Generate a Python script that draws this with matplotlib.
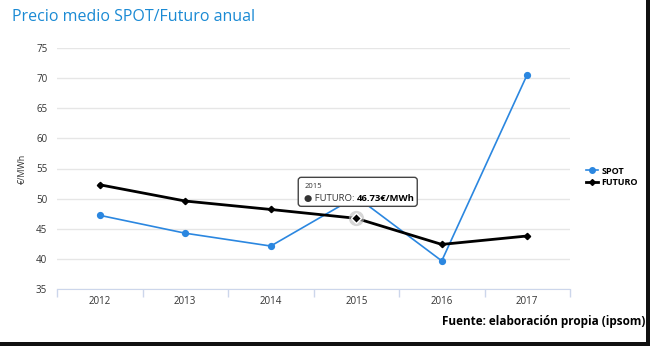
import matplotlib.pyplot as plt
import matplotlib.transforms as mtransforms
from matplotlib.patches import Rectangle, FancyBboxPatch
from matplotlib.lines import Line2D

# ---------------------------
# Data
# ---------------------------
years = ["2012", "2013", "2014", "2015", "2016", "2017"]
spot = [47.23, 44.26, 42.13, 50.32, 39.67, 70.6]
futuro = [52.3, 49.6, 48.2, 46.73, 42.4, 43.8]
y_ticks = [35, 40, 45, 50, 55, 60, 65, 70, 75]

BLUE = "#2b87e0"
TITLE_BLUE = "#1a8ad4"
AXIS_COL = "#ccd6eb"
GRID_COL = "#e6e6e6"
TXT = "#333333"

plt.rcParams["font.family"] = ["Open Sans", "DejaVu Sans"]

W, H = 650, 346
fig = plt.figure(figsize=(W / 100, H / 100), dpi=100)
fig.patch.set_facecolor("white")

# plot area in pixels: x 57..570, y 48..289
ax = fig.add_axes([57 / W, 1 - 289 / H, (570 - 57) / W, (289 - 48) / H])

x = list(range(len(years)))
ax.plot(x, spot, color=BLUE, lw=1.2, marker="o", ms=4.2,
        mfc=BLUE, mec=BLUE, zorder=3)
ax.plot(x, futuro, color="black", lw=2, marker="D", ms=3.2,
        mfc="black", mec="black", zorder=4)

# hover halo on 2015 FUTURO point
ax.plot([3], [futuro[3]], marker="o", ms=11, mfc="#bbbbbb", mec="none",
        alpha=0.6, zorder=5)
ax.plot([3], [futuro[3]], marker="D", ms=5, mfc="black", mec="white",
        mew=1, zorder=6)

ax.set_xlim(-0.5, len(years) - 0.5)
ax.set_ylim(35, 75)
ax.set_yticks(y_ticks)
ax.set_yticklabels([str(v) for v in y_ticks])
ax.set_xticks(x)
ax.set_xticklabels(years)
ax.set_xticks([i - 0.5 for i in range(len(years) + 1)], minor=True)

ax.grid(axis="y", color=GRID_COL, lw=1, zorder=0)
ax.tick_params(axis="y", length=0, pad=7, labelsize=7, labelcolor=TXT)
ax.tick_params(axis="x", which="major", length=0, pad=5, labelsize=7,
               labelcolor=TXT)
ax.tick_params(axis="x", which="minor", length=6, color=AXIS_COL, width=1)
for s in ["top", "right", "left"]:
    ax.spines[s].set_visible(False)
ax.spines["bottom"].set_color(AXIS_COL)
ax.set_ylabel("€/MWh", fontsize=6.5, color=TXT, labelpad=7)

# ---------------------------
# Tooltip (box offset in pixels from the hovered point)
# ---------------------------
px, py = ax.transData.transform((3, futuro[3]))
tip = mtransforms.Affine2D().translate(px, py)
ax.add_patch(FancyBboxPatch((-58, 12), 119, 29,
                            boxstyle="round,pad=0,rounding_size=3",
                            transform=tip, fc="white", ec="#444444",
                            lw=1, zorder=10, clip_on=False))
ax.annotate("2015", xy=(3, futuro[3]), xytext=(-52, 32),
            textcoords="offset pixels", ha="left", va="center",
            fontsize=5.5, color=TXT, zorder=11)
t1 = ax.annotate("● FUTURO: ", xy=(3, futuro[3]), xytext=(-52, 20),
                 textcoords="offset pixels", ha="left", va="center",
                 fontsize=6.8, color=TXT, zorder=11)
fig.canvas.draw()
w1 = t1.get_window_extent().width
ax.annotate("46.73€/MWh", xy=(3, futuro[3]), xytext=(-52 + w1, 20),
            textcoords="offset pixels", ha="left", va="center",
            fontsize=6.8, color="black", fontweight="bold", zorder=11)

# ---------------------------
# Legend
# ---------------------------
handles = [
    Line2D([], [], color=BLUE, lw=1.2, marker="o", ms=4, mfc=BLUE),
    Line2D([], [], color="black", lw=2, marker="D", ms=3, mfc="black"),
]
fig.legend(handles, ["SPOT", "FUTURO"], loc="center left",
           bbox_to_anchor=(578 / W, 1 - 177 / H), frameon=False,
           handlelength=1.3, handletextpad=0.4, labelspacing=0.3,
           prop={"size": 6.5, "weight": "bold"})

# ---------------------------
# Texts
# ---------------------------
fig.text(12 / W, 1 - 17 / H, "Precio medio SPOT/Futuro anual",
         fontsize=11.5, color=TITLE_BLUE, ha="left", va="center")
fig.text(645 / W, 1 - 322 / H, "Fuente: elaboración propia (ipsom)",
         fontsize=8.5, fontweight="bold", color="black",
         ha="right", va="center")

# dark frame on right and bottom edges
fig.add_artist(Rectangle((646 / W, 0), 4 / W, 1, transform=fig.transFigure,
                         fc="#111111", ec="none"))
fig.add_artist(Rectangle((0, 0), 1, 4 / H, transform=fig.transFigure,
                         fc="#111111", ec="none"))

fig.savefig("out.png", dpi=100, facecolor="white")
